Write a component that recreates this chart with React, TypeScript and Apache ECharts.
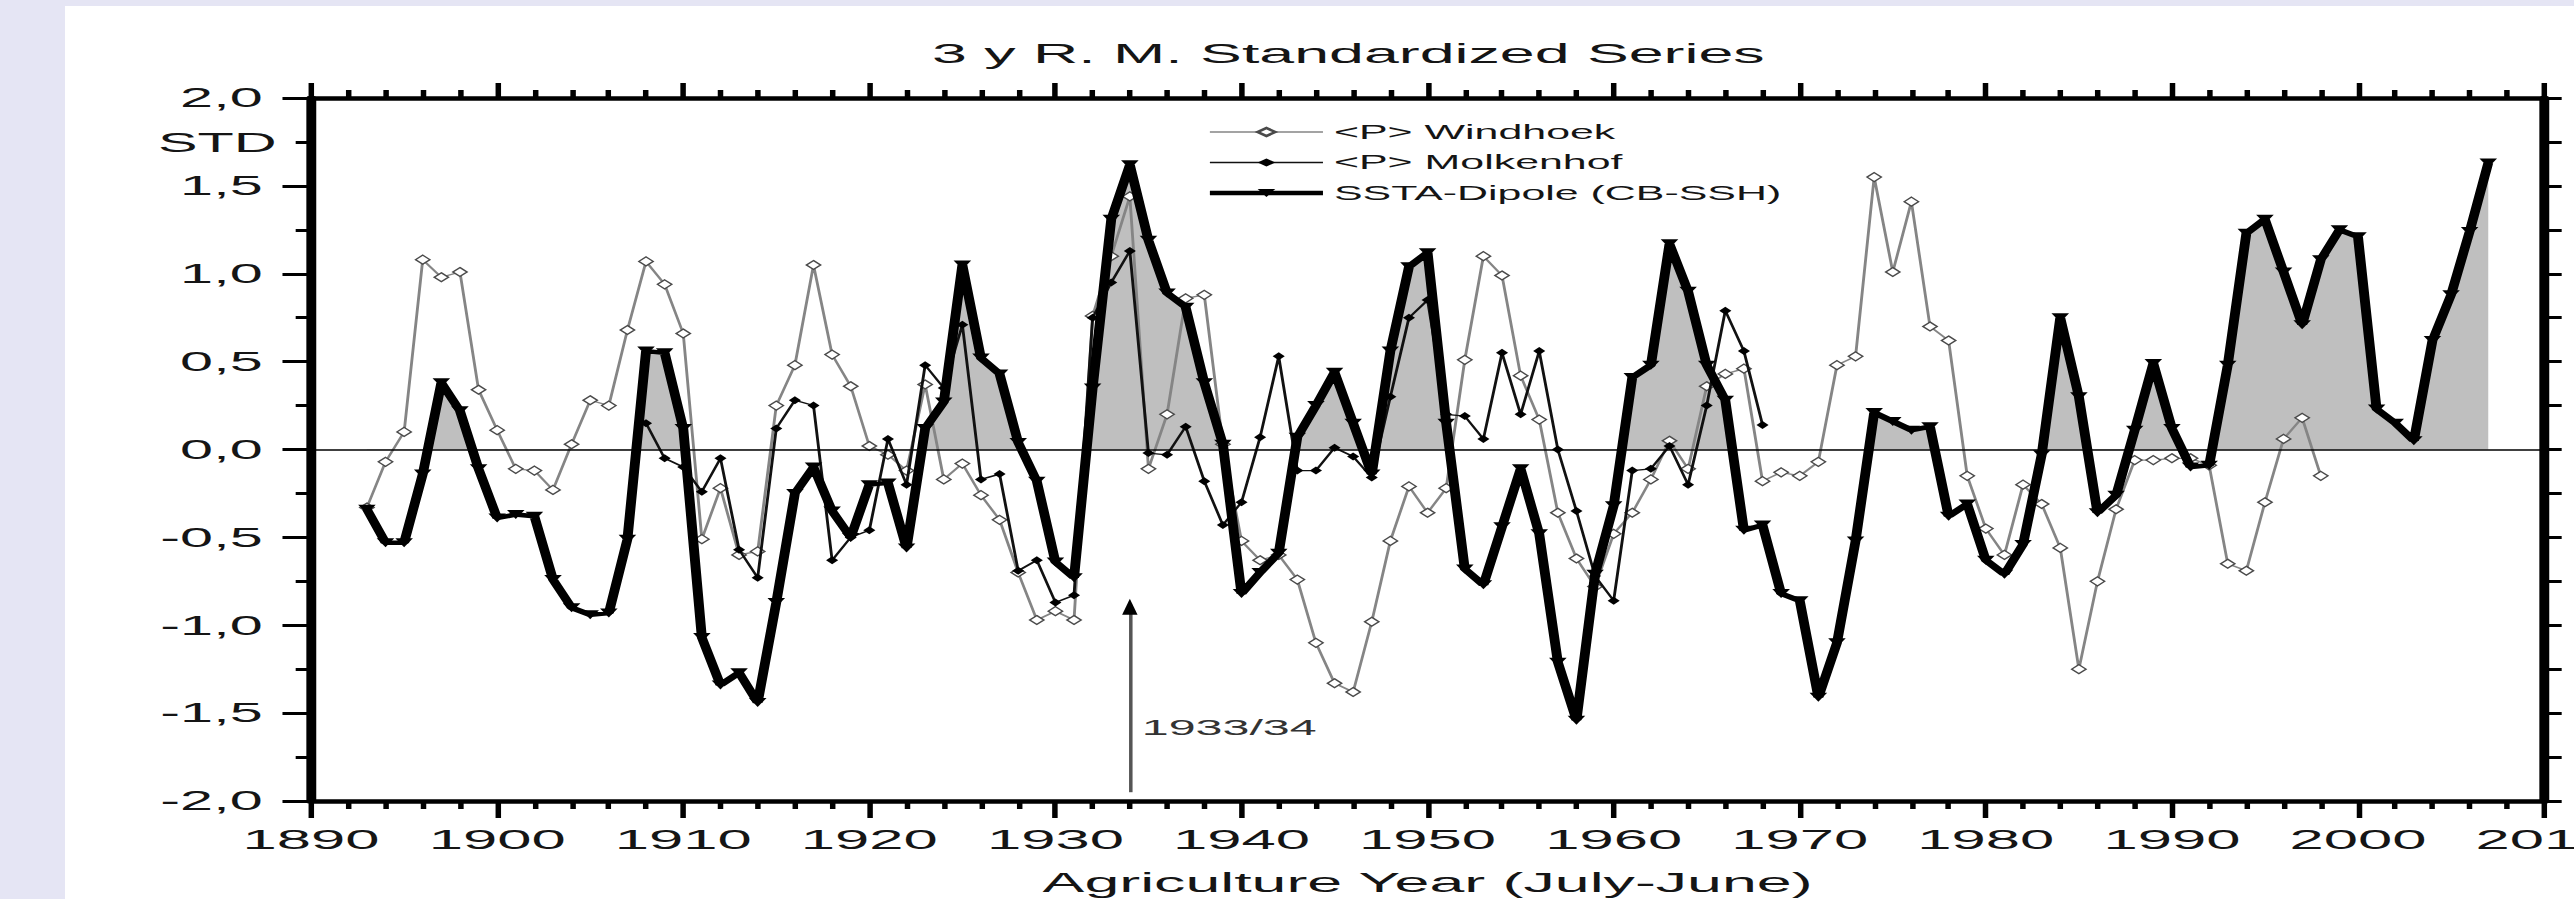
import React, { useEffect, useRef } from 'react';
import * as echarts from 'echarts';

// ---------- page geometry (reference image is stretched horizontally) ----------
const PAGE_W = 2574;
const PAGE_H = 899;
const STRETCH = 2.2;
const CHART_W = PAGE_W / STRETCH;
const FONT = '"Liberation Sans", Arial, Helvetica, sans-serif';

// ---------- texts ----------
const TITLE = '3 y R. M. Standardized Series';
const X_NAME = 'Agriculture Year (July-June)';
const Y_NAME = 'STD';
const ANNOT_TEXT = '1933/34';
const ANNOT_YEAR = 1934;
const LEGEND_NAMES = ['<P> Windhoek', '<P> Molkenhof', 'SSTA-Dipole (CB-SSH)'];

// ---------- axes ----------
const X_MIN = 1890;
const X_MAX = 2010;
const X_STEP = 10;
const Y_MIN = -2;
const Y_MAX = 2;
const Y_STEP = 0.5;

// ---------- data (3-year running means, standardized) ----------
const WINDHOEK_START = 1893;
const windhoek = [
  -0.33, -0.07, 0.10, 1.08, 0.98, 1.01, 0.34, 0.11, -0.11, -0.12,
  -0.23, 0.03, 0.28, 0.25, 0.68, 1.07, 0.94, 0.66, -0.51, -0.22,
  -0.60, -0.58, 0.25, 0.48, 1.05, 0.54, 0.36, 0.02, -0.03, -0.12,
  0.37, -0.17, -0.08, -0.26, -0.40, -0.70, -0.97, -0.92, -0.97, 0.76,
  1.10, 1.44, -0.11, 0.20, 0.86, 0.88, 0.03, -0.52, -0.63, -0.60,
  -0.74, -1.10, -1.33, -1.38, -0.98, -0.52, -0.21, -0.36, -0.22, 0.51,
  1.10, 0.99, 0.42, 0.17, -0.36, -0.62, -0.78, -0.48, -0.36, -0.17,
  0.05, -0.11, 0.36, 0.43, 0.46, -0.18, -0.13, -0.15, -0.07, 0.48,
  0.53, 1.55, 1.01, 1.41, 0.70, 0.62, -0.15, -0.45, -0.60, -0.20,
  -0.31, -0.56, -1.25, -0.75, -0.34, -0.06, -0.06, -0.05, -0.05, -0.09,
  -0.65, -0.69, -0.30, 0.06, 0.18, -0.15,
];

const MOLKENHOF_START = 1908;
const molkenhof = [
  0.15, -0.05, -0.10, -0.24, -0.05, -0.57, -0.73, 0.12, 0.28, 0.25,
  -0.63, -0.50, -0.46, 0.06, -0.20, 0.48, 0.35, 0.71, -0.17, -0.14,
  -0.69, -0.63, -0.87, -0.83, 0.75, 0.95, 1.13, -0.02, -0.03, 0.13,
  -0.18, -0.43, -0.30, 0.07, 0.53, -0.12, -0.12, 0.01, -0.04, -0.16,
  0.30, 0.75, 0.85, 0.20, 0.19, 0.06, 0.55, 0.20, 0.56, 0.00,
  -0.35, -0.72, -0.86, -0.12, -0.11, 0.02, -0.20, 0.25, 0.79, 0.56,
  0.14,
];

const SSTA_START = 1893;
const ssta = [
  -0.34, -0.53, -0.53, -0.14, 0.38, 0.22, -0.11, -0.39, -0.37, -0.38,
  -0.74, -0.90, -0.94, -0.93, -0.51, 0.56, 0.55, 0.12, -1.07, -1.34,
  -1.27, -1.44, -0.87, -0.25, -0.10, -0.35, -0.50, -0.20, -0.19, -0.56,
  0.12, 0.27, 1.05, 0.52, 0.43, 0.04, -0.18, -0.64, -0.73, 0.35,
  1.31, 1.62, 1.19, 0.89, 0.81, 0.38, 0.03, -0.82, -0.70, -0.59,
  0.07, 0.25, 0.44, 0.15, -0.14, 0.56, 1.04, 1.12, 0.15, -0.68,
  -0.77, -0.44, -0.11, -0.48, -1.21, -1.54, -0.71, -0.32, 0.41, 0.48,
  1.17, 0.90, 0.48, 0.28, -0.46, -0.43, -0.82, -0.86, -1.41, -1.10,
  -0.52, 0.21, 0.16, 0.11, 0.13, -0.38, -0.31, -0.63, -0.71, -0.54,
  -0.03, 0.75, 0.30, -0.36, -0.26, 0.11, 0.49, 0.12, -0.10, -0.09,
  0.48, 1.23, 1.31, 1.01, 0.71, 1.08, 1.25, 1.21, 0.23, 0.15,
  0.05, 0.62, 0.88, 1.24, 1.63,
];

// annotation arrow extent (values on the y axis)
const ARROW_FROM = -1.95;
const ARROW_TO = -0.9;

const toPairs = (start: number, vals: number[]) => vals.map((v, i) => [start + i, v]);

const BLACK = '#000';
const TEXT = '#151515';
const SHADE = '#bfbfbf';
const W_LINE = 1.3;
const M_LINE = 1.3;
const S_LINE = 4.5;

function App() {
  const ref = useRef<HTMLDivElement>(null);

  useEffect(() => {
    if (!ref.current) return;
    const chart = echarts.init(ref.current, undefined, { renderer: 'svg' });

    const sstaData = toPairs(SSTA_START, ssta);

    const option: any = {
      animation: false,
      textStyle: { fontFamily: FONT },
      title: {
        text: TITLE,
        left: 423.6,
        top: 39,
        padding: 0,
        textStyle: { fontSize: 28.5, fontWeight: 'normal', color: TEXT, fontFamily: FONT },
      },
      legend: {
        data: [
          { name: LEGEND_NAMES[0], lineStyle: { width: W_LINE } },
          { name: LEGEND_NAMES[1], lineStyle: { width: M_LINE } },
          { name: LEGEND_NAMES[2], lineStyle: { width: S_LINE } },
        ],
        orient: 'vertical',
        left: 547.7,
        top: 122,
        padding: 0,
        itemWidth: 51.4,
        itemHeight: 10,
        itemGap: 10.5,
        textStyle: { fontSize: 19.5, color: TEXT, fontFamily: FONT },
      },
      grid: {
        left: 141.4,
        right: CHART_W - 1156.4,
        top: 98,
        bottom: PAGE_H - 801,
        containLabel: false,
        outerBoundsMode: 'none',
      },
      visualMap: [
        {
          show: false,
          type: 'piecewise',
          seriesIndex: 0,
          dimension: 1,
          pieces: [
            { gt: -10, lte: 0, color: 'rgba(255,255,255,0)' },
            { gt: 0, lte: 10, color: SHADE },
          ],
        },
      ],
      xAxis: [
        {
          type: 'value',
          position: 'bottom',
          min: X_MIN,
          max: X_MAX,
          interval: X_STEP,
          name: X_NAME,
          nameLocation: 'middle',
          nameGap: 67,
          nameTextStyle: { fontSize: 28.5, color: TEXT, fontFamily: FONT },
          axisLine: { onZero: false, lineStyle: { color: BLACK, width: 4.5 } },
          axisTick: { show: true, length: 17, lineStyle: { color: BLACK, width: 2.5 } },
          minorTick: { show: true, splitNumber: 5, length: 8, lineStyle: { color: BLACK, width: 2.5 } },
          axisLabel: {
            formatter: (v: number) => String(v),
            fontSize: 28,
            margin: 24,
            color: TEXT,
            fontFamily: FONT,
            showMinLabel: true,
            showMaxLabel: true,
          },
          splitLine: { show: false },
          minorSplitLine: { show: false },
        },
        {
          type: 'value',
          position: 'top',
          min: X_MIN,
          max: X_MAX,
          interval: X_STEP,
          axisLine: { onZero: false, lineStyle: { color: BLACK, width: 4.5 } },
          axisTick: { show: true, length: 15, lineStyle: { color: BLACK, width: 2.5 } },
          minorTick: { show: true, splitNumber: 5, length: 8, lineStyle: { color: BLACK, width: 2.5 } },
          axisLabel: { show: false },
          splitLine: { show: false },
          minorSplitLine: { show: false },
        },
      ],
      yAxis: [
        {
          type: 'value',
          position: 'left',
          min: Y_MIN,
          max: Y_MAX,
          interval: Y_STEP,
          axisLine: { onZero: false, lineStyle: { color: BLACK, width: 4.5 } },
          axisTick: { show: true, length: 13, lineStyle: { color: BLACK, width: 3 } },
          minorTick: { show: true, splitNumber: 2, length: 7, lineStyle: { color: BLACK, width: 3 } },
          axisLabel: {
            formatter: (v: number) => v.toFixed(1).replace('.', ','),
            fontSize: 27,
            margin: 22,
            color: TEXT,
            fontFamily: FONT,
            showMinLabel: true,
            showMaxLabel: true,
          },
          splitLine: { show: false },
          minorSplitLine: { show: false },
        },
        {
          type: 'value',
          position: 'right',
          min: Y_MIN,
          max: Y_MAX,
          interval: Y_STEP / 2,
          axisLine: { onZero: false, lineStyle: { color: BLACK, width: 4.5 } },
          axisTick: { show: true, length: 8, lineStyle: { color: BLACK, width: 3 } },
          axisLabel: { show: false },
          splitLine: { show: false },
        },
      ],
      series: [
        {
          // positive part of the dipole shaded (visualMap makes the negative part transparent)
          type: 'line',
          name: 'shade',
          data: sstaData,
          xAxisIndex: 0,
          yAxisIndex: 0,
          symbol: 'none',
          silent: true,
          lineStyle: { width: 0 },
          areaStyle: { opacity: 1 },
          z: 1,
        },
        {
          type: 'line',
          name: LEGEND_NAMES[0],
          data: toPairs(WINDHOEK_START, windhoek),
          xAxisIndex: 0,
          yAxisIndex: 0,
          symbol: 'diamond',
          symbolSize: [6.5, 9],
          lineStyle: { color: '#858585', width: W_LINE },
          itemStyle: { color: '#ffffff', borderColor: '#4a4a4a', borderWidth: 1 },
          z: 2,
          markLine: {
            silent: true,
            symbol: 'none',
            label: { show: false },
            data: [
              { yAxis: 0, lineStyle: { color: BLACK, width: 1.5, type: 'solid' } },
              [
                { coord: [ANNOT_YEAR, ARROW_FROM], lineStyle: { color: '#555', width: 1.6, type: 'solid' } },
                { coord: [ANNOT_YEAR, ARROW_TO] },
              ],
            ],
          },
          markPoint: {
            silent: true,
            label: { show: false },
            data: [
              {
                coord: [ANNOT_YEAR, ARROW_TO + 0.005],
                symbol: 'triangle',
                symbolSize: [7, 16],
                itemStyle: { color: BLACK },
              },
            ],
          },
        },
        {
          type: 'line',
          name: LEGEND_NAMES[1],
          data: toPairs(MOLKENHOF_START, molkenhof),
          xAxisIndex: 0,
          yAxisIndex: 0,
          symbol: 'diamond',
          symbolSize: [5.5, 8],
          lineStyle: { color: '#111', width: M_LINE },
          itemStyle: { color: '#000' },
          z: 3,
        },
        {
          type: 'line',
          name: LEGEND_NAMES[2],
          data: sstaData,
          xAxisIndex: 0,
          yAxisIndex: 0,
          symbol: 'triangle',
          symbolRotate: 180,
          symbolSize: [8, 9],
          lineStyle: { color: '#000', width: S_LINE },
          itemStyle: { color: '#000' },
          z: 4,
        },
      ],
      graphic: [
        {
          type: 'text',
          x: 125.8,
          y: 143,
          style: {
            text: Y_NAME,
            fontSize: 27,
            fontFamily: FONT,
            fill: TEXT,
            textAlign: 'right',
            textVerticalAlign: 'middle',
          },
        },
        {
          type: 'text',
          x: 519,
          y: 727,
          style: {
            text: ANNOT_TEXT,
            fontSize: 22,
            fontFamily: FONT,
            fill: '#333',
            textAlign: 'left',
            textVerticalAlign: 'middle',
          },
        },
      ],
    };

    chart.setOption(option);
    return () => chart.dispose();
  }, []);

  return (
    <div
      style={{
        position: 'absolute',
        left: 0,
        top: 0,
        width: PAGE_W,
        height: PAGE_H,
        background: '#e5e5f4',
        overflow: 'hidden',
      }}
    >
      <div style={{ position: 'absolute', left: 65, top: 6, right: 0, bottom: 0, background: '#ffffff' }} />
      <div
        ref={ref}
        style={{
          position: 'absolute',
          left: 0,
          top: 0,
          width: CHART_W,
          height: PAGE_H,
          transform: `scaleX(${STRETCH})`,
          transformOrigin: '0 0',
        }}
      />
    </div>
  );
}

export default App;
